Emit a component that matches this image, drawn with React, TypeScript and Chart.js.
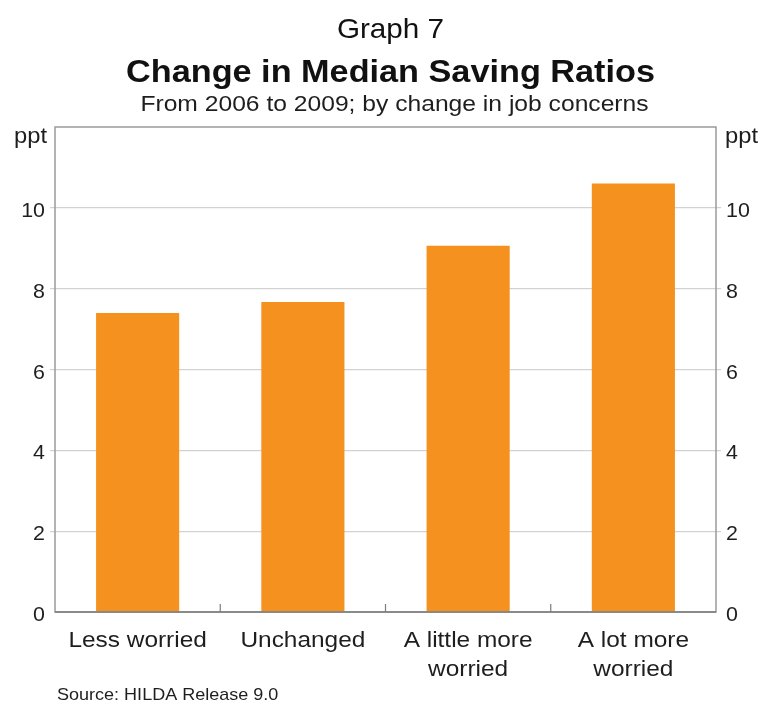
import React, { useEffect, useRef } from "react";
import { Chart, registerables } from "chart.js";

Chart.register(...registerables);

const categories: string[][] = [
  ["Less worried"],
  ["Unchanged"],
  ["A little more", "worried"],
  ["A lot more", "worried"],
];
const savingRatioChange: number[] = [7.4, 7.67, 9.06, 10.6];
const yTicks: number[] = [0, 2, 4, 6, 8, 10, 12];
const unitLabel = "ppt";
const graphNumber = "Graph 7";
const titleText = "Change in Median Saving Ratios";
const subtitleText = "From 2006 to 2009; by change in job concerns";
const sourceText = "Source: HILDA Release 9.0";

const FONT = "'Liberation Sans', Arial, Helvetica, sans-serif";
const BAR_COLOR = "#F5921F";
const TEXT = "#1e1e1e";

// Draws text with a slight horizontal stretch around its anchor point.
function wideText(
  ctx: CanvasRenderingContext2D,
  text: string,
  x: number,
  y: number,
  align: "left" | "right" | "center",
  sx: number
) {
  ctx.save();
  ctx.translate(x, y);
  ctx.scale(sx, 1);
  ctx.textAlign = align;
  ctx.textBaseline = "alphabetic";
  ctx.fillText(text, 0, 0);
  ctx.restore();
}

const frame = {
  id: "frame",
  afterDatasetsDraw(chart: any) {
    const { ctx, chartArea } = chart;
    const { left, right, top, bottom } = chartArea;
    ctx.save();
    ctx.strokeStyle = "#9a9a9a";
    ctx.lineWidth = 1.5;
    ctx.strokeRect(left, top, right - left, bottom - top);
    ctx.strokeStyle = "#7c7c7c";
    ctx.beginPath();
    ctx.moveTo(left, bottom);
    ctx.lineTo(right, bottom);
    ctx.stroke();

    // small inward ticks between categories
    const x = chart.scales.x;
    ctx.lineWidth = 1.2;
    for (let i = 1; i < categories.length; i++) {
      const px = (x.getPixelForValue(i - 1) + x.getPixelForValue(i)) / 2;
      ctx.beginPath();
      ctx.moveTo(px, bottom);
      ctx.lineTo(px, bottom - 8);
      ctx.stroke();
    }

    // y tick labels on both sides
    const y = chart.scales.y;
    ctx.fillStyle = TEXT;
    ctx.font = `21px ${FONT}`;
    yTicks.forEach((v) => {
      if (v === 12) return;
      const py = y.getPixelForValue(v) + 9;
      wideText(ctx, String(v), left - 10, py, "right", 1.02);
      wideText(ctx, String(v), right + 10, py, "left", 1.02);
    });
    ctx.font = `22px ${FONT}`;
    const yTop = y.getPixelForValue(12);
    wideText(ctx, unitLabel, left - 8, yTop + 16, "right", 1.08);
    wideText(ctx, unitLabel, right + 9, yTop + 16, "left", 1.08);

    // category labels
    ctx.font = `22px ${FONT}`;
    categories.forEach((lines, i) => {
      const cx = x.getPixelForValue(i);
      lines.forEach((line, j) => {
        wideText(ctx, line, cx, bottom + 35 + j * 29, "center", 1.11);
      });
    });
    ctx.restore();
  },
  afterDraw(chart: any) {
    const { ctx, chartArea } = chart;
    const cx = (chartArea.left + chartArea.right) / 2 + 5;
    ctx.save();
    ctx.fillStyle = "#111";
    ctx.font = `28px ${FONT}`;
    wideText(ctx, graphNumber, cx, 38, "center", 1.06);
    ctx.font = `bold 32px ${FONT}`;
    wideText(ctx, titleText, cx, 82, "center", 1.07);
    ctx.fillStyle = TEXT;
    ctx.font = `22px ${FONT}`;
    wideText(ctx, subtitleText, cx + 4, 111, "center", 1.12);
    ctx.font = `17px ${FONT}`;
    wideText(ctx, sourceText, 57, 700, "left", 1.06);
    ctx.restore();
  },
};

const gridColor = (c: any) =>
  c.tick && (c.tick.value === 0 || c.tick.value === 12) ? "rgba(0,0,0,0)" : "#d2d2d2";

export default function App() {
  const ref = useRef<HTMLCanvasElement | null>(null);

  useEffect(() => {
    if (!ref.current) return;
    const chart = new Chart(ref.current, {
      type: "bar",
      data: {
        labels: categories,
        datasets: [
          {
            data: savingRatioChange,
            backgroundColor: BAR_COLOR,
            borderWidth: 0,
            categoryPercentage: 1,
            barPercentage: 0.503,
          },
        ],
      },
      options: {
        animation: false,
        responsive: false,
        maintainAspectRatio: false,
        layout: { padding: { top: 127, left: 0, right: 0, bottom: 0 } },
        plugins: {
          legend: { display: false },
          tooltip: { enabled: false },
          title: { display: false },
        },
        scales: {
          x: {
            type: "category",
            grid: { display: false },
            border: { display: false },
            ticks: { display: false },
            afterFit(scale: any) {
              scale.height = 94;
            },
          },
          y: {
            type: "linear",
            position: "left",
            min: 0,
            max: 12,
            afterBuildTicks(scale: any) {
              scale.ticks = yTicks.map((v) => ({ value: v }));
            },
            ticks: { display: false },
            border: { display: false },
            grid: { color: gridColor, lineWidth: 1.2, tickLength: 5 },
            afterFit(scale: any) {
              scale.width = 55;
            },
          },
          y2: {
            type: "linear",
            position: "right",
            min: 0,
            max: 12,
            afterBuildTicks(scale: any) {
              scale.ticks = yTicks.map((v) => ({ value: v }));
            },
            ticks: { display: false },
            border: { display: false },
            grid: { drawOnChartArea: false, color: gridColor, lineWidth: 1.2, tickLength: 5 },
            afterFit(scale: any) {
              scale.width = 46;
            },
          },
        },
      },
      plugins: [frame],
    });
    return () => chart.destroy();
  }, []);

  return (
    <div style={{ position: "absolute", left: 0, top: 0, width: 762, height: 706, background: "#fff" }}>
      <canvas ref={ref} width={762} height={706} style={{ display: "block" }} />
    </div>
  );
}
